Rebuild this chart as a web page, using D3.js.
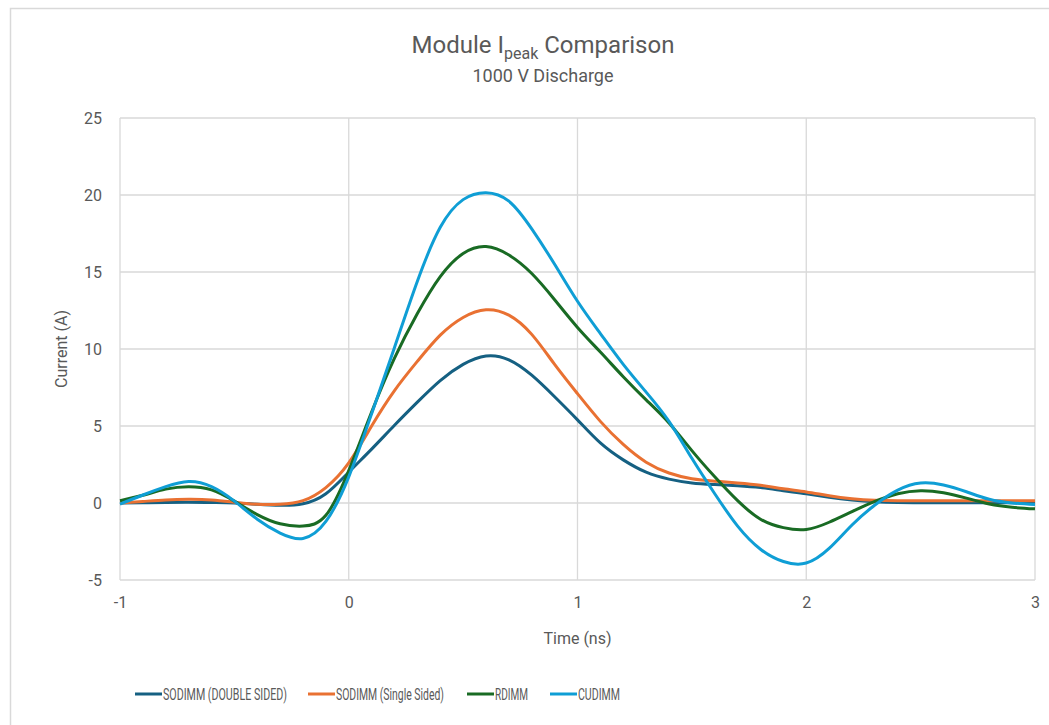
<!DOCTYPE html>
<html>
<head>
<meta charset="utf-8">
<script src="https://cdn.jsdelivr.net/npm/d3@7"></script>
<style>
  body { margin: 0; background: #fff; }
  svg text { font-family: Roboto, "Liberation Sans", sans-serif; fill: #595959; }
</style>
</head>
<body>
<div id="chart"></div>
<script>
////////////////////////////////////////////////////////////////////
////  Data
var time = [-1.0,-0.9,-0.8,-0.7,-0.6,-0.5,-0.4,-0.3,-0.2,-0.1,
             0.0, 0.1, 0.2, 0.3, 0.4, 0.5, 0.6, 0.7, 0.8, 0.9,
             1.0, 1.1, 1.2, 1.3, 1.4, 1.5, 1.6, 1.7, 1.8, 1.9,
             2.0, 2.1, 2.2, 2.3, 2.4, 2.5, 2.6, 2.7, 2.8, 2.9, 3.0];

var sodimmDouble = [0.0,0.02,0.04,0.05,0.03,0.0,-0.08,-0.15,-0.05,0.6,
                    2.0,3.5,5.05,6.55,7.95,9.0,9.55,9.3,8.3,6.9,
                    5.4,3.9,2.8,2.0,1.55,1.3,1.2,1.12,1.0,0.8,
                    0.6,0.37,0.19,0.08,0.03,0.02,0.02,0.02,0.02,0.01,0.0];

var sodimmSingle = [0.0,0.1,0.2,0.24,0.2,0.05,-0.08,-0.08,0.15,1.0,
                    2.6,5.0,7.3,9.2,10.9,12.05,12.55,12.2,10.95,9.0,
                    7.1,5.3,3.8,2.65,1.95,1.58,1.42,1.3,1.15,0.92,
                    0.72,0.47,0.28,0.18,0.15,0.15,0.15,0.15,0.15,0.15,0.15];

var rdimm = [0.15,0.5,0.9,1.06,0.85,0.12,-0.75,-1.35,-1.5,-0.8,
             2.1,5.9,9.4,12.3,14.7,16.2,16.65,16.1,14.9,13.2,
             11.4,9.8,8.2,6.7,5.2,3.4,1.7,0.15,-1.05,-1.6,
             -1.72,-1.25,-0.56,0.1,0.6,0.8,0.67,0.32,-0.07,-0.28,-0.38];

var cudimm = [-0.07,0.52,1.06,1.39,1.06,0.12,-1.05,-1.95,-2.3,-1.2,
              1.7,5.8,10.1,14.4,17.9,19.7,20.15,19.6,17.8,15.5,
              13.1,11.0,9.0,7.2,5.3,2.9,0.6,-1.5,-3.0,-3.8,
              -3.9,-2.95,-1.43,-0.13,0.84,1.3,1.17,0.73,0.24,0.0,-0.1];

var seriesNames  = ["SODIMM (DOUBLE SIDED)", "SODIMM (Single Sided)", "RDIMM", "CUDIMM"];
var seriesValues = [sodimmDouble, sodimmSingle, rdimm, cudimm];
var seriesColors = ["#156082", "#E97132", "#196B24", "#0F9ED5"];

var xTicks = [-1, 0, 1, 2, 3];
var yTicks = [-5, 0, 5, 10, 15, 20, 25];

////////////////////////////////////////////////////////////////////
////  Layout
var W = 1049, H = 725;
var margin = {top: 118, right: 14, bottom: 145, left: 120},
    width = W - margin.left - margin.right,
    height = H - margin.top - margin.bottom;

var svg = d3.select("#chart")
  .append("svg")
    .attr("width", W)
    .attr("height", H);

// chart frame (runs off the right / bottom of the picture)
svg.append("rect")
  .attr("x", 10.5).attr("y", 8.5)
  .attr("width", 1200).attr("height", 900)
  .attr("fill", "none")
  .attr("stroke", "#d9d9d9")
  .attr("stroke-width", 1.5);

var g = svg.append("g")
  .attr("transform", "translate(" + margin.left + "," + margin.top + ")");

var x = d3.scaleLinear().domain([-1, 3]).range([0, width]);
var y = d3.scaleLinear().domain([-5, 25]).range([height, 0]);

////  Gridlines
g.append("g")
  .selectAll("line")
  .data(yTicks)
  .enter()
  .append("line")
    .attr("x1", 0).attr("x2", width)
    .attr("y1", function(d){ return y(d); })
    .attr("y2", function(d){ return y(d); })
    .attr("stroke", "#d9d9d9")
    .attr("stroke-width", 1.3);

g.append("g")
  .selectAll("line")
  .data(xTicks)
  .enter()
  .append("line")
    .attr("x1", function(d){ return x(d); })
    .attr("x2", function(d){ return x(d); })
    .attr("y1", 0).attr("y2", height)
    .attr("stroke", "#d9d9d9")
    .attr("stroke-width", 1.3);

////  Axes (labels only, Excel style)
var fmt = function(d){ return String(d); };   // plain hyphen, no decimals

var yAxis = g.append("g")
  .call(d3.axisLeft(y).tickValues(yTicks).tickFormat(fmt).tickSize(0).tickPadding(18));
yAxis.select(".domain").remove();
yAxis.selectAll("text")
  .style("font-size", "16px")
  .style("font-family", "Roboto, sans-serif")
  .attr("fill", "#595959");

var xAxis = g.append("g")
  .attr("transform", "translate(0," + height + ")")
  .call(d3.axisBottom(x).tickValues(xTicks).tickFormat(fmt).tickSize(0).tickPadding(17));
xAxis.select(".domain").remove();
xAxis.selectAll("text")
  .style("font-size", "16px")
  .style("font-family", "Roboto, sans-serif")
  .attr("fill", "#595959");

////  Lines
var line = d3.line()
  .curve(d3.curveNatural)
  .x(function(d){ return x(d[0]); })
  .y(function(d){ return y(d[1]); });

seriesValues.forEach(function(vals, i) {
  g.append("path")
    .datum(time.map(function(t, j){ return [t, vals[j]]; }))
    .attr("fill", "none")
    .attr("stroke", seriesColors[i])
    .attr("stroke-width", 3)
    .attr("stroke-linejoin", "round")
    .attr("d", line);
});

////  Titles
var title = svg.append("text")
  .attr("x", 543).attr("y", 53)
  .attr("text-anchor", "middle")
  .style("font-size", "24px");
title.append("tspan").text("Module I");
title.append("tspan").attr("dy", 6).style("font-size", "16px").text("peak");
title.append("tspan").attr("dy", -6).text(" Comparison");

svg.append("text")
  .attr("x", 543).attr("y", 82)
  .attr("text-anchor", "middle")
  .style("font-size", "18px")
  .text("1000 V Discharge");

svg.append("text")
  .attr("x", margin.left + x(1)).attr("y", 644)
  .attr("text-anchor", "middle")
  .style("font-size", "16px")
  .text("Time (ns)");

svg.append("text")
  .attr("transform", "translate(67," + (margin.top + y(10)) + ") rotate(-90)")
  .attr("text-anchor", "middle")
  .style("font-size", "16px")
  .text("Current (A)");

////  Legend (condensed text, squeezed horizontally like the original)
var legendX = [135, 308, 467, 550];
var legendW = [124, 108, 33, 42];
var legend = svg.append("g").attr("transform", "translate(0,694)");
seriesNames.forEach(function(name, i) {
  legend.append("line")
    .attr("x1", legendX[i]).attr("x2", legendX[i] + 27)
    .attr("y1", 0).attr("y2", 0)
    .attr("stroke", seriesColors[i])
    .attr("stroke-width", 3);
  var lg = legend.append("g");
  var t = lg.append("text")
    .attr("x", 0).attr("y", 6)
    .style("font-size", "17px")
    .text(name);
  var sx = legendW[i] / t.node().getComputedTextLength();
  lg.attr("transform", "translate(" + (legendX[i] + 28) + ",0) scale(" + sx + ",1)");
});
</script>
</body>
</html>
